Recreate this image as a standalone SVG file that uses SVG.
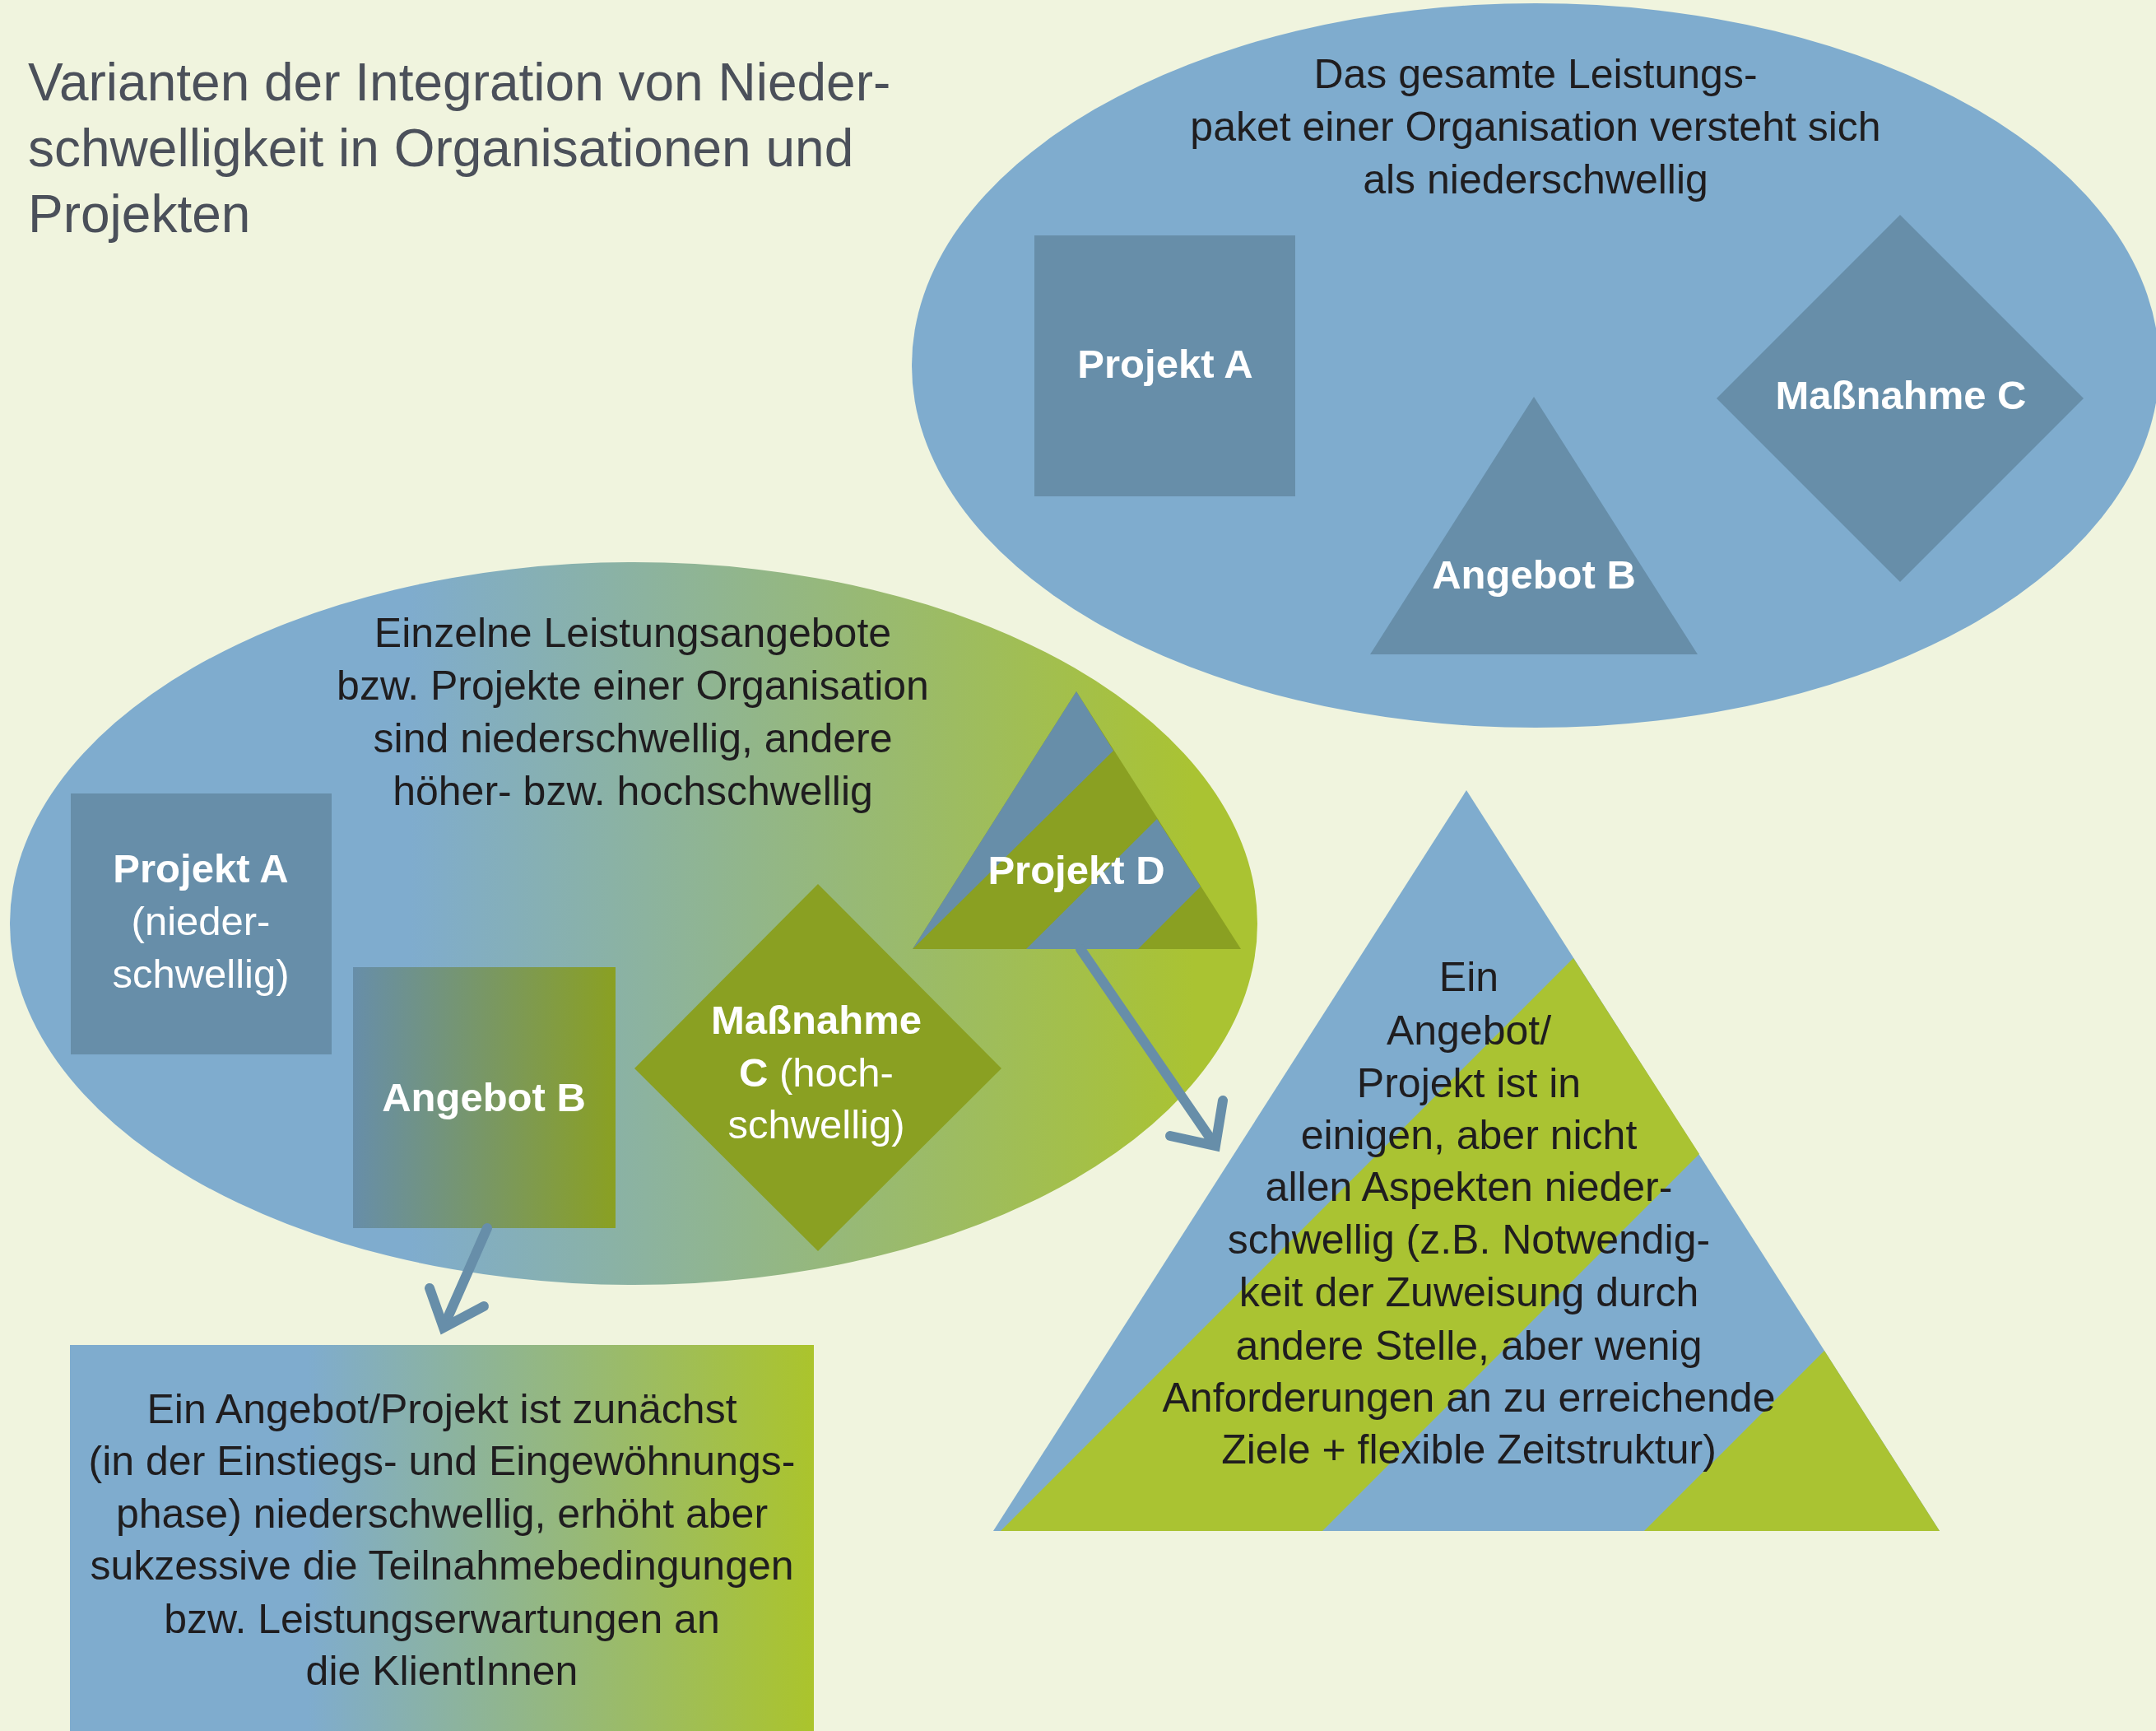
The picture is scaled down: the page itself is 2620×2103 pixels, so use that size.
<svg xmlns="http://www.w3.org/2000/svg" width="2620" height="2103" viewBox="0 0 2620 2103">
<style>
.t{font-family:"Liberation Sans",Arial,sans-serif;font-size:50px;fill:#1f1d1f;text-anchor:middle}
.title{font-family:"Liberation Sans",Arial,sans-serif;font-size:64px;fill:#4b505a}
.w{font-family:"Liberation Sans",Arial,sans-serif;font-size:49px;fill:#ffffff;text-anchor:middle}
.b{font-weight:bold}
.dk{fill:#678ea9}
.lb{fill:#7facce}
.ol{fill:#8aa022}
.gr{fill:#aac332}
.arr{fill:none;stroke:#678ea9;stroke-width:12;stroke-linecap:round;stroke-linejoin:miter}
</style>
<defs>
<linearGradient id="gEll" gradientUnits="userSpaceOnUse" x1="12" y1="0" x2="1527" y2="0">
<stop offset="0" stop-color="#7facce"/>
<stop offset="0.32" stop-color="#7facce"/>
<stop offset="0.95" stop-color="#aac332"/>
<stop offset="1" stop-color="#aac332"/>
</linearGradient>
<linearGradient id="gB" gradientUnits="userSpaceOnUse" x1="429" y1="0" x2="748" y2="0">
<stop offset="0" stop-color="#678ea9"/>
<stop offset="1" stop-color="#8aa022"/>
</linearGradient>
<linearGradient id="gBox" gradientUnits="userSpaceOnUse" x1="85" y1="0" x2="989" y2="0">
<stop offset="0" stop-color="#7facce"/>
<stop offset="0.32" stop-color="#7facce"/>
<stop offset="1" stop-color="#abc42c"/>
</linearGradient>
</defs>
<rect width="2620" height="2103" fill="#f0f4de"/>

<g id="title">
<text class="title" x="34" y="122">Varianten der Integration von Nieder-</text>
<text class="title" x="34" y="202">schwelligkeit in Organisationen und</text>
<text class="title" x="34" y="282">Projekten</text>
</g>

<g id="org-gesamt">
<ellipse class="lb" cx="1866" cy="444" rx="758" ry="440"/>
<text class="t" x="1866" y="107">Das gesamte Leistungs-</text>
<text class="t" x="1866" y="171">paket einer Organisation versteht sich</text>
<text class="t" x="1866" y="235">als niederschwellig</text>
</g>
<g id="top-projekt-a">
<rect class="dk" x="1257" y="286" width="317" height="317"/>
<text class="w b" x="1416" y="459">Projekt A</text>
</g>
<g id="top-angebot-b">
<polygon class="dk" points="1864,482 2063,795 1665,795"/>
<text class="w b" x="1864" y="715">Angebot B</text>
</g>
<g id="top-massnahme-c">
<polygon class="dk" points="2309,261 2532,484 2309,707 2086,484"/>
<text class="w b" x="2310" y="497">Maßnahme C</text>
</g>

<g id="org-einzeln">
<ellipse cx="770" cy="1122" rx="758" ry="439" fill="url(#gEll)"/>
<text class="t" x="769" y="786">Einzelne Leistungsangebote</text>
<text class="t" x="769" y="850">bzw. Projekte einer Organisation</text>
<text class="t" x="769" y="914">sind niederschwellig, andere</text>
<text class="t" x="769" y="978">höher- bzw. hochschwellig</text>
</g>
<g id="left-projekt-a">
<rect class="dk" x="86" y="964" width="317" height="317"/>
<text class="w b" x="244" y="1072">Projekt A</text>
<text class="w" x="244" y="1136">(nieder-</text>
<text class="w" x="244" y="1200">schwellig)</text>
</g>
<g id="left-angebot-b">
<rect x="429" y="1175" width="319" height="317" fill="url(#gB)"/>
<text class="w b" x="588" y="1350">Angebot B</text>
</g>
<g id="left-massnahme-c">
<polygon class="ol" points="994,1074 1217,1298 994,1520 771,1298"/>
<text class="w b" x="992" y="1256">Maßnahme</text>
<text class="w" x="992" y="1320"><tspan class="b">C</tspan> (hoch-</text>
<text class="w" x="992" y="1383">schwellig)</text>
</g>
<g id="left-projekt-d">
<polygon class="ol" points="1308,840 1508,1153 1109,1153"/>
<polygon class="dk" points="1308,840 1353,912 1109,1153"/>
<polygon class="dk" points="1406,995 1459,1077 1383,1153 1247,1153"/>
<text class="w b" x="1308" y="1074">Projekt D</text>
</g>

<g id="box-phase">
<rect x="85" y="1634" width="904" height="469" fill="url(#gBox)"/>
<text class="t" x="537" y="1729">Ein Angebot/Projekt ist zunächst</text>
<text class="t" x="537" y="1792">(in der Einstiegs- und Eingewöhnungs-</text>
<text class="t" x="537" y="1856">phase) niederschwellig, erhöht aber</text>
<text class="t" x="537" y="1919">sukzessive die Teilnahmebedingungen</text>
<text class="t" x="537" y="1984">bzw. Leistungserwartungen an</text>
<text class="t" x="537" y="2047">die KlientInnen</text>
</g>

<g id="triangle-aspekte">
<polygon class="lb" points="1782,960 2357,1860 1207,1860"/>
<polygon class="gr" points="1912,1164 2065,1402 1607,1860 1216,1860"/>
<polygon class="gr" points="2217,1641 2357,1860 1998,1860"/>
<text class="t" x="1785" y="1204">Ein</text>
<text class="t" x="1785" y="1269">Angebot/</text>
<text class="t" x="1785" y="1333">Projekt ist in</text>
<text class="t" x="1785" y="1396">einigen, aber nicht</text>
<text class="t" x="1785" y="1459">allen Aspekten nieder-</text>
<text class="t" x="1785" y="1523">schwellig (z.B. Notwendig-</text>
<text class="t" x="1785" y="1587">keit der Zuweisung durch</text>
<text class="t" x="1785" y="1652">andere Stelle, aber wenig</text>
<text class="t" x="1785" y="1715">Anforderungen an zu erreichende</text>
<text class="t" x="1785" y="1778">Ziele + flexible Zeitstruktur)</text>
</g>

<g id="connectors">
<line class="arr" x1="1313" y1="1153" x2="1475" y2="1389" stroke-linecap="butt"/>
<polyline class="arr" points="1422,1380 1477,1392 1486,1337"/>
<line class="arr" x1="592" y1="1492" x2="540" y2="1610" stroke-linecap="butt"/>
<polyline class="arr" points="522,1565 539,1613 588,1587"/>
</g>
</svg>
